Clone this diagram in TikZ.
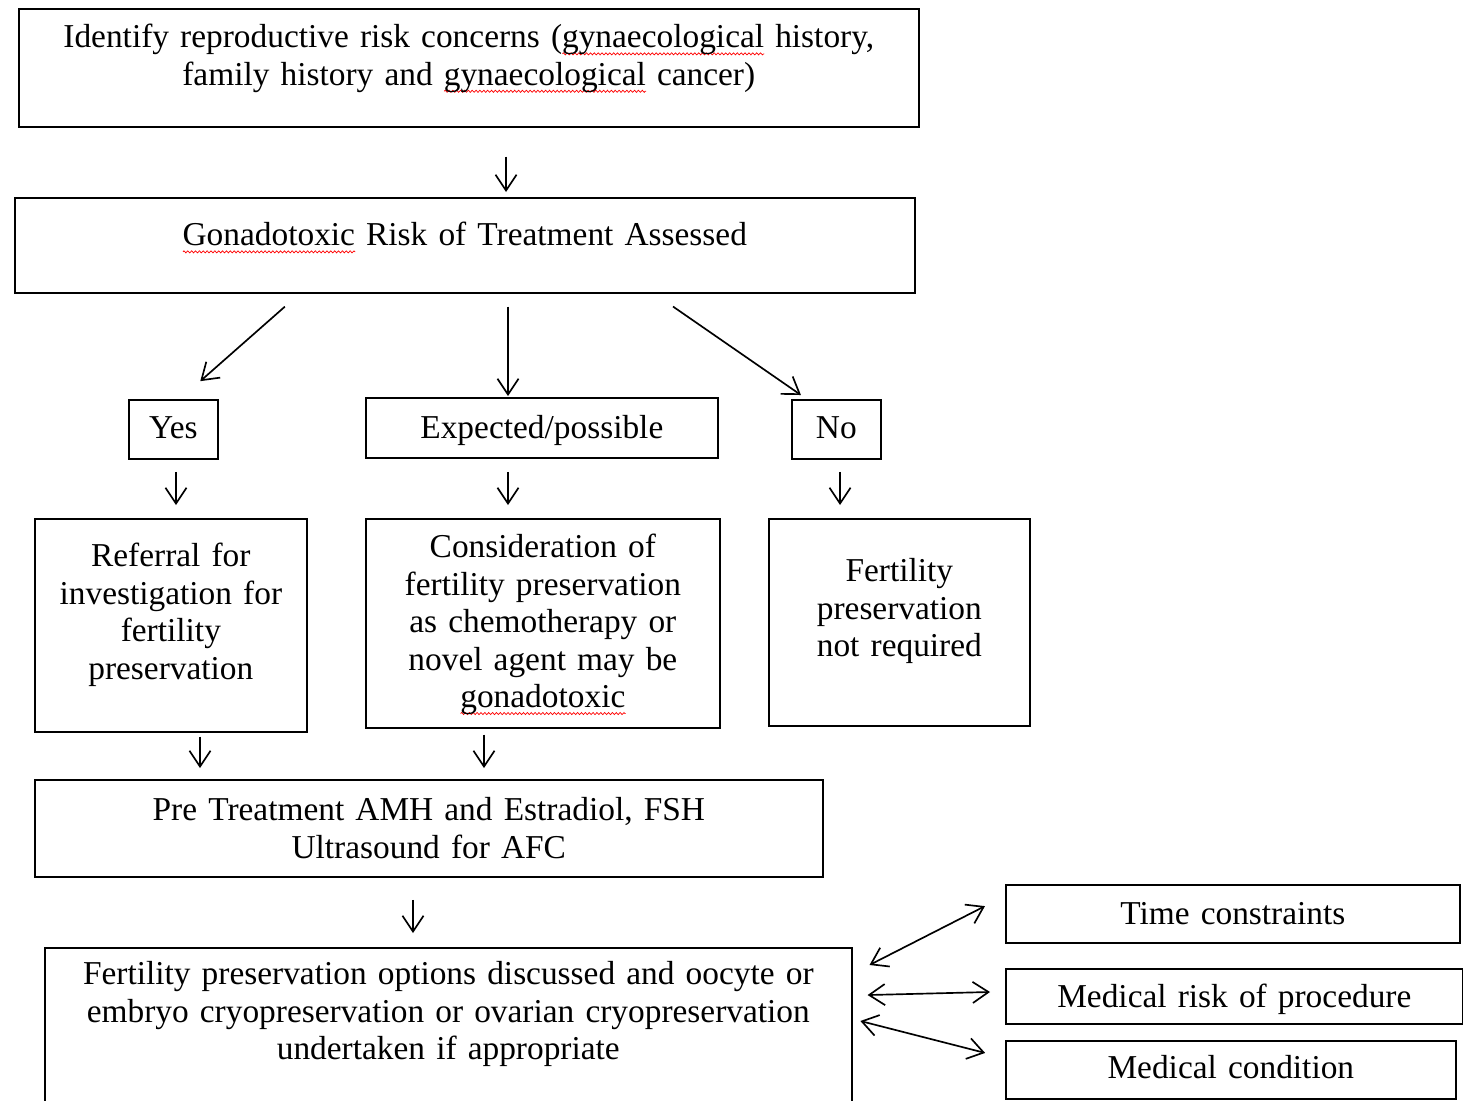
\documentclass[tikz,border=0pt]{standalone}
\usepackage{fontspec}
\setmainfont{Liberation Serif}
\usepackage{tikz}
\usetikzlibrary{arrows.meta}
\usetikzlibrary{decorations.pathmorphing}

% red wavy underline of a spell-checked word
\newsavebox{\spellbox}
\newcommand{\spellmark}[1]{\leavevmode\sbox{\spellbox}{#1}\rlap{\smash{\tikz[baseline=0pt]\draw[red, line width=0.4pt, decorate, decoration={zigzag, segment length=2.2pt, amplitude=0.6pt}] (0pt,-3.4pt) -- (\wd\spellbox,-3.4pt);}}\usebox{\spellbox}}

\begin{document}
\begin{tikzpicture}[
    x=0.02cm, y=-0.02cm, % one unit per pixel, counted from the top
    box/.style={
        draw,
        rectangle,
        line width=1pt,
        inner sep=0pt,
        anchor=north west,
        align=center,
        font=\fontsize{19}{21.3}\selectfont
    },
    arrow/.style={
        -{Straight Barb[length=9pt,width=12pt]},
        line width=0.95pt
    },
    twoway/.style={
        {Straight Barb[length=9pt,width=12pt]}-{Straight Barb[length=9pt,width=12pt]},
        line width=0.95pt
    }
]
    \useasboundingbox (0,0) rectangle (1463,1100);

    % --- Assessment boxes at the top ---
    \node[box, text width=18cm, text height=0.78cm, text depth=1.58cm] (ident) at (18,8)
        {Identify reproductive risk concerns (\spellmark{gynaecological} history,\\ family history and \spellmark{gynaecological} cancer)};
    \node[box, text width=18cm, text height=0.96cm, text depth=0.94cm] (gona) at (14,197)
        {\spellmark{Gonadotoxic} Risk of Treatment Assessed};

    % --- The three answers ---
    \node[box, text width=1.78cm, text height=0.78cm, text depth=0.40cm] (yes) at (128,399) {Yes};
    \node[box, text width=7.04cm, text height=0.82cm, text depth=0.38cm] (exp) at (365,397) {Expected/possible};
    \node[box, text width=1.78cm, text height=0.78cm, text depth=0.40cm] (no) at (791,399) {No};

    % --- What follows each answer ---
    \node[box, text width=5.44cm, text height=0.96cm, text depth=3.30cm] (refer) at (34,518)
        {Referral for\\ investigation for\\ fertility\\ preservation};
    \node[box, text width=7.08cm, text height=0.78cm, text depth=3.40cm] (consider) at (365,518)
        {Consideration of\\ fertility preservation\\ as chemotherapy or\\ novel agent may be\\ \spellmark{gonadotoxic}};
    \node[box, text width=5.22cm, text height=1.26cm, text depth=2.88cm] (notreq) at (768,518)
        {Fertility\\ preservation\\ not required};

    % --- Tests and options ---
    \node[box, text width=15.76cm, text height=0.82cm, text depth=1.12cm] (pre) at (34,779)
        {Pre Treatment AMH and Estradiol, FSH\\ Ultrasound for AFC};
    \node[box, text width=16.14cm, text height=0.74cm, text depth=2.92cm] (options) at (44,947)
        {Fertility preservation options discussed and oocyte or\\ embryo cryopreservation or ovarian cryopreservation\\ undertaken if appropriate};

    % --- Limiting factors on the right ---
    \node[box, text width=9.08cm, text height=0.80cm, text depth=0.36cm] (time) at (1005,884) {Time constraints};
    \node[box, text width=9.14cm, text height=0.78cm, text depth=0.32cm] (risk) at (1005,968) {Medical risk of procedure};
    \node[box, text width=9.00cm, text height=0.76cm, text depth=0.40cm] (cond) at (1005,1040) {Medical condition};

    % --- Arrows down the chart ---
    \draw[arrow, shorten <=0.58cm, shorten >=0.10cm] (ident.south -| 506,0) -- (gona.north -| 506,0);
    \draw[arrow, shorten <=0.39cm, shorten >=0.54cm] (gona.south -| 299.5,0) -- (yes.north -| 180,0);
    \draw[arrow, shorten <=0.26cm, shorten >=0.02cm] (gona.south -| 508,0) -- (exp.north -| 508,0);
    \draw[arrow, shorten <=0.45cm, shorten >=0.14cm] (gona.south -| 654.5,0) -- (no.north -| 806.7,0);
    \draw[arrow, shorten <=0.24cm, shorten >=0.26cm] (yes.south -| 176,0) -- (refer.north -| 176,0);
    \draw[arrow, shorten <=0.26cm, shorten >=0.26cm] (exp.south -| 508,0) -- (consider.north -| 508,0);
    \draw[arrow, shorten <=0.24cm, shorten >=0.26cm] (no.south -| 840,0) -- (notreq.north -| 840,0);
    \draw[arrow, shorten <=0.08cm, shorten >=0.22cm] (refer.south -| 200,0) -- (pre.north -| 200,0);
    \draw[arrow, shorten <=0.12cm, shorten >=0.22cm] (consider.south -| 484,0) -- (pre.north -| 484,0);
    \draw[arrow, shorten <=0.44cm, shorten >=0.28cm] (pre.south -| 413,0) -- (options.north -| 413,0);

    % --- Two-way arrows to the limiting factors ---
    \draw[twoway, shorten <=0.38cm, shorten >=0.45cm] (options.east |- 0,973.6) -- (time.west |- 0,895.9);
    \draw[twoway, shorten <=0.30cm, shorten >=0.30cm] (options.east |- 0,995.4) -- (risk.west |- 0,991.6);
    \draw[twoway, shorten <=0.16cm, shorten >=0.41cm] (options.east |- 0,1019) -- (cond.west |- 0,1058);
\end{tikzpicture}
\end{document}
